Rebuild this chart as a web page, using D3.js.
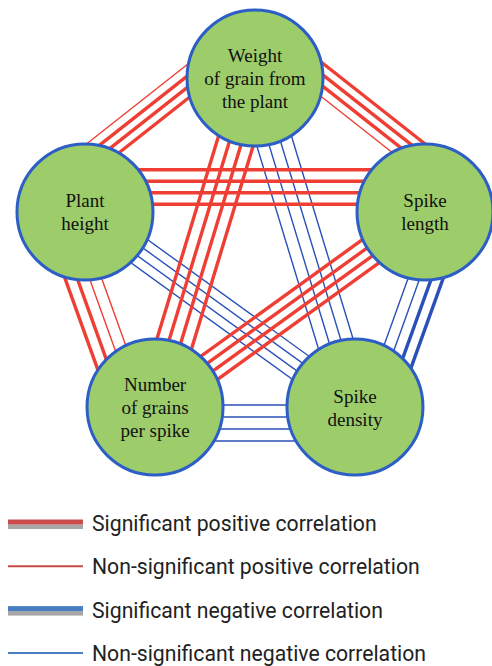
<!DOCTYPE html>
<html lang="fr">

<head>
    <meta charset="UTF-8">
    <meta name="viewport" content="width=device-width, initial-scale=1.0">
    <title>Corrélations</title>
    <style>
        body {
            margin: 0;
            background: #fff;
        }
        svg {
            display: block;
        }
    </style>
</head>

<body>
    <script src="https://cdn.jsdelivr.net/npm/d3@7"></script>
    <script>
        // 1. les données

        // les caractères (noeuds), un libellé par ligne
        const caracteres = [
            ["Weight", "of grain from", "the plant"],
            ["Plant", "height"],
            ["Spike", "length"],
            ["Number", "of grains", "per spike"],
            ["Spike", "density"]
        ];

        // position de chaque caractère sur le pentagone (angle en degrés)
        const angles = [-90, 198, -18, 126, 54];

        // les paires reliées
        const paires = [[0, 1], [0, 2], [1, 2], [0, 3], [0, 4], [1, 3], [1, 4], [2, 3], [2, 4], [3, 4]];

        // signe de la corrélation : 1 positive, -1 négative
        const signes = [1, 1, 1, 1, -1, 1, -1, 1, -1, -1];

        // significativité des 4 traits de chaque paire (de l'extérieur vers l'intérieur)
        const significatif = [
            [0, 1, 1, 1],
            [1, 1, 1, 0],
            [1, 1, 1, 1],
            [1, 1, 1, 1],
            [0, 0, 0, 0],
            [1, 1, 0, 0],
            [0, 0, 0, 0],
            [1, 1, 1, 1],
            [1, 1, 0, 0],
            [0, 0, 0, 0]
        ];

        // légende
        const legende = [
            "Significant positive correlation",
            "Non-significant positive correlation",
            "Significant negative correlation",
            "Non-significant negative correlation"
        ];
        const legendeSignes = [1, 1, -1, -1];
        const legendeSignif = [1, 0, 1, 0];

        // 2. mise en page (hors données)
        const largeur = 492, hauteur = 666;
        const rayon = 68;
        // décalage de chaque faisceau vers l'extérieur et écart entre ses traits
        const decalages = [39, 40, 25, 0, 0, 24, 0, 0, 23, 16];
        const ecarts = [9, 9, 11.5, 12, 12, 11.5, 9.5, 9.5, 11, 12];

        // échelles : du pentagone unité vers les pixels
        const echelleX = d3.scaleLinear()
            .domain([-0.951, -0.588, 0, 0.588, 0.951])
            .range([85, 155, 255, 355, 425]);
        const echelleY = d3.scaleLinear()
            .domain([-1, -0.309, 0.809])
            .range([78, 212, 407]);

        const couleurTrait = d3.scaleOrdinal().domain([1, -1]).range(["#ef3e33", "#2a50b8"]);
        const epaisseurTrait = d3.scaleOrdinal().domain([1, 0]).range([3.4, 1.4]);

        const couleurLegende = d3.scaleOrdinal().domain([1, -1]).range(["#c94b4a", "#4a7ec4"]);

        // créer un canevas
        const canevas = d3.select('body')
            .append('svg')
            .attr('width', largeur)
            .attr('height', hauteur);

        // calcul des noeuds
        const noeuds = caracteres.map((lignes, i) => {
            const a = angles[i] * Math.PI / 180;
            return { lignes: lignes, x: echelleX(Math.cos(a)), y: echelleY(Math.sin(a)) };
        });
        const centre = [d3.mean(noeuds, d => d.x), d3.mean(noeuds, d => d.y)];

        // 3. les traits
        const traits = [];
        paires.forEach((p, k) => {
            const s = noeuds[p[0]], t = noeuds[p[1]];
            const dx = t.x - s.x, dy = t.y - s.y;
            const l = Math.hypot(dx, dy);
            let nx = -dy / l, ny = dx / l;
            // normale orientée vers l'extérieur
            const mx = (s.x + t.x) / 2 - centre[0], my = (s.y + t.y) / 2 - centre[1];
            if (nx * mx + ny * my < 0) { nx = -nx; ny = -ny; }
            significatif[k].forEach((sig, i) => {
                const off = decalages[k] + (1.5 - i) * ecarts[k];
                traits.push({
                    x1: s.x + nx * off, y1: s.y + ny * off,
                    x2: t.x + nx * off, y2: t.y + ny * off,
                    signe: signes[k], sig: sig
                });
            });
        });
        // les négatifs d'abord, les positifs par-dessus
        traits.sort((a, b) => a.signe - b.signe);

        canevas.append("g").selectAll('line')
            .data(traits)
            .enter()
            .append('line')
            .attr('x1', d => d.x1)
            .attr('y1', d => d.y1)
            .attr('x2', d => d.x2)
            .attr('y2', d => d.y2)
            .attr('stroke', d => couleurTrait(d.signe))
            .attr('stroke-width', d => epaisseurTrait(d.sig));

        // 4. les bulles
        const bulles = canevas.append("g").selectAll('g')
            .data(noeuds)
            .enter()
            .append('g')
            .attr('transform', d => `translate(${d.x},${d.y})`);

        bulles.append('circle')
            .attr('r', rayon)
            .attr('fill', '#9dcc6a')
            .attr('stroke', '#2c5ec6')
            .attr('stroke-width', 3);

        bulles.append('text')
            .attr('text-anchor', 'middle')
            .attr('font-family', '"Liberation Serif", "DejaVu Serif", serif')
            .attr('font-size', 19)
            .attr('fill', '#111')
            .selectAll('tspan')
            .data(d => d.lignes.map((t, i) => ({ t: t, i: i, n: d.lignes.length })))
            .enter()
            .append('tspan')
            .attr('x', 0)
            .attr('y', d => 7 - (d.n - 1) * 11.5 + d.i * 23)
            .text(d => d.t);

        // 5. la légende
        const lignesLegende = canevas.append("g").selectAll('g')
            .data(legende)
            .enter()
            .append('g')
            .attr('transform', (d, i) => `translate(0,${531 + i * 43.3})`);

        lignesLegende.each(function (d, i) {
            const g = d3.select(this);
            if (legendeSignif[i]) {
                g.append('rect')
                    .attr('x', 8).attr('y', -6.5)
                    .attr('width', 75).attr('height', 4.5)
                    .attr('fill', '#a7a7a7');
                g.append('rect')
                    .attr('x', 8).attr('y', -11.5)
                    .attr('width', 75).attr('height', 5)
                    .attr('fill', couleurLegende(legendeSignes[i]));
            } else {
                g.append('line')
                    .attr('x1', 8).attr('x2', 83)
                    .attr('y1', -8).attr('y2', -8)
                    .attr('stroke', couleurLegende(legendeSignes[i]))
                    .attr('stroke-width', 2);
            }
            g.append('text')
                .attr('x', 92)
                .attr('y', 0)
                .attr('font-family', 'Roboto, sans-serif')
                .attr('font-size', 21.2)
                .attr('fill', '#222')
                .text(d);
        });
    </script>
</body>

</html>
